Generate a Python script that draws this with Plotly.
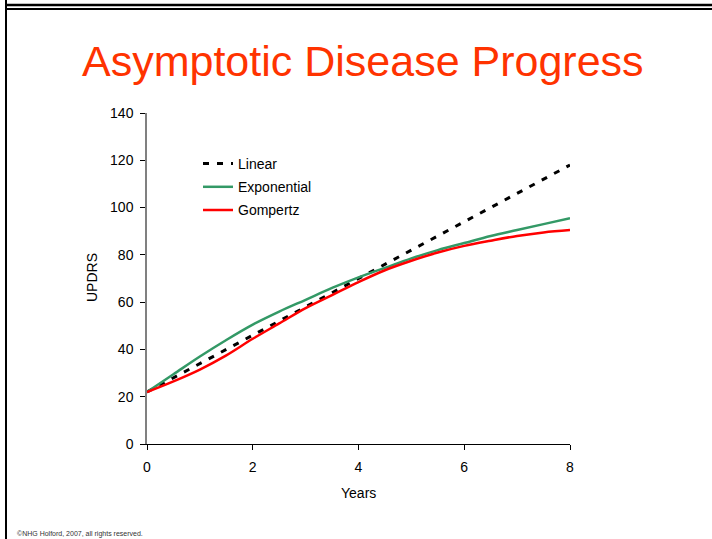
import plotly.graph_objects as go

# Years since diagnosis
years = [0, 0.5, 1, 1.5, 2, 2.5, 3, 3.5, 4, 4.5, 5, 5.5, 6, 6.5, 7, 7.5, 8]

# UPDRS under three disease progress models
linear = [22, 28, 34, 40, 46, 52, 58, 64, 70, 76, 82, 88, 94, 100, 106, 112, 118]
exponential = [22, 29.5, 37, 44, 50.5, 56, 61, 66, 70.5, 74.5, 78.5, 82, 85,
               88, 90.5, 93, 95.5]
gompertz = [22, 26.5, 31.5, 37.5, 44.5, 51, 57.5, 63, 68.5, 73.5, 77.5, 81,
            83.8, 86, 88, 89.5, 90.5]

y_ticks = [0, 20, 40, 60, 80, 100, 120, 140]
x_ticks = [0, 2, 4, 6, 8]

W, H = 712, 539
ML, MR, MT, MB = 147, 142, 113, 95
PW, PH = W - ML - MR, H - MT - MB

def px(x):
    return (x - ML) / PW

def py(y):
    return (H - MB - y) / PH

FONT = "Arial, Liberation Sans, sans-serif"

fig = go.Figure()
fig.add_trace(go.Scatter(x=years, y=linear, mode="lines", name="Linear",
                         legendgroup="a",
                         line=dict(color="black", width=3, dash="6px,8px")))
fig.add_trace(go.Scatter(x=years, y=exponential, mode="lines", name="Exponential",
                         legendgroup="b",
                         line=dict(color="#339966", width=2.5, shape="spline")))
fig.add_trace(go.Scatter(x=years, y=gompertz, mode="lines", name="Gompertz",
                         legendgroup="c",
                         line=dict(color="#FF0000", width=2.5, shape="spline")))

fig.update_layout(
    width=W, height=H,
    margin=dict(l=ML, r=MR, t=MT, b=MB, pad=0),
    paper_bgcolor="white", plot_bgcolor="white",
    font=dict(family=FONT, size=14, color="black"),
    showlegend=True,
    legend=dict(x=px(198), y=py(148), xanchor="left", yanchor="top",
                bgcolor="rgba(0,0,0,0)", font=dict(size=14),
                traceorder="grouped", tracegroupgap=2, itemwidth=30),
    xaxis=dict(range=[0, 8], tickvals=x_ticks, showgrid=False, zeroline=False,
               showline=True, linecolor="black", linewidth=1,
               ticks="outside", ticklen=5, tickcolor="black",
               ticklabelstandoff=5, tickfont=dict(size=14)),
    yaxis=dict(range=[0, 140], tickvals=y_ticks, showgrid=False, zeroline=False,
               showline=True, linecolor="#808080", linewidth=1.5,
               ticks="outside", ticklen=5, tickcolor="black",
               ticklabelstandoff=4, tickfont=dict(size=14)),
    annotations=[
        dict(text="Asymptotic Disease Progress", x=px(363), y=py(61),
             xref="paper", yref="paper", xanchor="center", yanchor="middle",
             showarrow=False,
             font=dict(size=43, color="#FF3300", family=FONT)),
        dict(text="Years", x=px(358), y=py(493), xref="paper", yref="paper",
             xanchor="center", yanchor="middle",
             showarrow=False, font=dict(size=14)),
        dict(text="UPDRS", x=px(92), y=py(278), xref="paper", yref="paper",
             xanchor="center", yanchor="middle",
             showarrow=False, textangle=-90, font=dict(size=14)),
        dict(text="©NHG Holford, 2007, all rights reserved.", x=px(15),
             y=py(534), xref="paper", yref="paper", xanchor="left",
             yanchor="middle",
             showarrow=False, font=dict(size=7, color="#333333")),
    ],
    shapes=[
        dict(type="line", xref="paper", yref="paper", x0=px(6), x1=px(712),
             y0=py(5), y1=py(5), line=dict(color="black", width=2.5)),
        dict(type="line", xref="paper", yref="paper", x0=px(6), x1=px(712),
             y0=py(9), y1=py(9), line=dict(color="black", width=2)),
        dict(type="line", xref="paper", yref="paper", x0=px(6), x1=px(6),
             y0=py(0), y1=py(539), line=dict(color="black", width=2)),
    ],
)

fig.write_html("out.html")
